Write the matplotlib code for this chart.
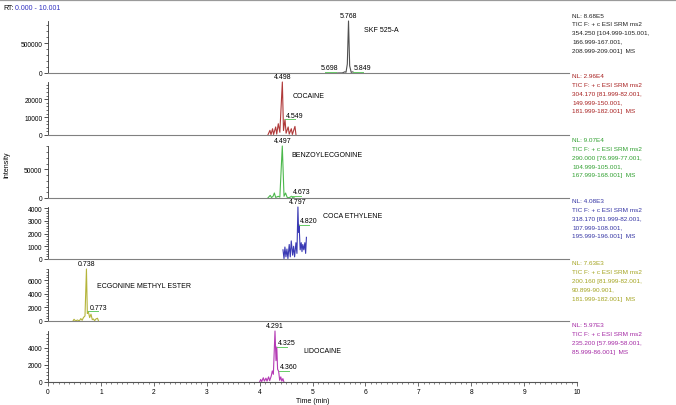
import numpy as np
import matplotlib.pyplot as plt
from matplotlib.ticker import MultipleLocator, AutoMinorLocator, FormatStrFormatter
from matplotlib.lines import Line2D

plt.rcParams['font.family'] = ['Liberation Sans', 'DejaVu Sans']

# ---- data ----
names = ["SKF 525-A", "COCAINE", "BENZOYLECGONINE", "COCA ETHYLENE",
         "ECGONINE METHYL ESTER", "LIDOCAINE"]
nl_labels = ["8.68E5", "2.96E4", "9.07E4", "4.08E3", "7.63E3", "5.97E3"]
nl_values = [8.68e5, 2.96e4, 9.07e4, 4.08e3, 7.63e3, 5.97e3]
scan_info = [
    ["354.250 [104.999-105.001,", "166.999-167.001,", "208.999-209.001]  MS"],
    ["304.170 [81.999-82.001,", "149.999-150.001,", "181.999-182.001]  MS"],
    ["290.000 [76.999-77.001,", "104.999-105.001,", "167.999-168.001]  MS"],
    ["318.170 [81.999-82.001,", "107.999-108.001,", "195.999-196.001]  MS"],
    ["200.160 [81.999-82.001,", "90.899-90.901,", "181.999-182.001]  MS"],
    ["235.200 [57.999-58.001,", "85.999-86.001]  MS"],
]

t_skf = [5.55, 5.65, 5.698, 5.72, 5.745, 5.768, 5.79, 5.82, 5.849, 5.88, 5.95]
i_skf = [0, 1500, 20000, 12000, 150000, 868000, 120000, 10000, 20000, 1500, 0]

t_coc = [4.22, 4.26, 4.28, 4.31, 4.33, 4.37, 4.39, 4.42, 4.45, 4.498, 4.52,
         4.549, 4.57, 4.61, 4.63, 4.67, 4.69, 4.74, 4.76]
i_coc = [0, 2600, 200, 3500, 300, 4500, 500, 6300, 1500, 29600, 2500,
         8700, 1000, 4500, 500, 3500, 300, 4800, 0]

t_bze = [4.22, 4.265, 4.29, 4.32, 4.345, 4.37, 4.42, 4.45, 4.497, 4.53, 4.56,
         4.59, 4.62, 4.65, 4.673, 4.70, 4.73]
i_bze = [0, 4600, 800, 3000, 8700, 1000, 2900, 1500, 90700, 3000, 8700,
         1200, 500, 1500, 3000, 600, 0]

t_cet = [4.51, 4.53, 4.547, 4.567, 4.586, 4.605, 4.63, 4.65, 4.669, 4.695,
         4.714, 4.733, 4.759, 4.778, 4.797, 4.81, 4.820, 4.84, 4.86, 4.875,
         4.89, 4.91, 4.93, 4.945, 4.96]
i_cet = [720, 30, 940, 170, 780, 30, 1140, 170, 1420, 300,
         1000, 170, 1280, 440, 4080, 2100, 2670, 720, 1280, 580,
         1140, 720, 1280, 440, 1700]

t_eme = [0.48, 0.50, 0.53, 0.565, 0.60, 0.63, 0.655, 0.68, 0.71, 0.738,
         0.755, 0.773, 0.80, 0.825, 0.85, 0.87, 0.895, 0.92, 0.95, 0.97]
i_eme = [0, 250, 0, 150, 0, 350, 100, 500, 750, 7630,
         1100, 1400, 500, 1000, 200, 300, 50, 300, 400, 0]

t_lid = [4.00, 4.02, 4.04, 4.07, 4.09, 4.12, 4.14, 4.17, 4.19, 4.22, 4.24,
         4.26, 4.291, 4.31, 4.325, 4.34, 4.360, 4.38, 4.40, 4.42, 4.44, 4.46]
i_lid = [0, 300, 50, 500, 100, 450, 100, 600, 150, 700, 1300,
         900, 5970, 2500, 4100, 1500, 1250, 200, 600, 100, 400, 0]

times = [t_skf, t_coc, t_bze, t_cet, t_eme, t_lid]
ints = [i_skf, i_coc, i_bze, i_cet, i_eme, i_lid]

peak_labels = [
    [("5.768", "top"), ("5.698", "left"), ("5.849", "right")],
    [("4.498", "top"), ("4.549", "right")],
    [("4.497", "top"), ("4.673", "right")],
    [("4.797", "top"), ("4.820", "right")],
    [("0.738", "top"), ("0.773", "right")],
    [("4.291", "top"), ("4.325", "right"), ("4.360", "right")],
]

# ---- styling / layout ----
W, H = 676, 406
trace_colors = ["#505050", "#b03a3a", "#4cb84c", "#3a3ab4", "#b4b43a", "#b43ab4"]
text_colors = ["#202020", "#a82020", "#30a030", "#3434a4", "#a4a420", "#a428a4"]
GREEN = "#66cc66"
y_major = [500000, 10000, 50000, 1000, 2000, 2000]
tops = [22, 83, 147, 208, 270, 332]
bots = [74, 136, 199, 260, 322, 383]
name_pos = [(6.07, 0.83), (4.70, 0.75), (4.68, 0.83), (5.28, 0.83), (0.94, 0.69), (4.82, 0.61)]
FS = 5

fig = plt.figure(figsize=(W / 100, H / 100), dpi=100)

for i in range(6):
    right = 577 if i == 5 else 569
    ax = fig.add_axes([48 / W, 1 - bots[i] / H, (right - 48) / W, (bots[i] - tops[i]) / H])
    ax.plot(times[i], ints[i], color=trace_colors[i], lw=0.8, clip_on=False)
    ax.set_xlim(0, 10)
    ax.set_ylim(0, nl_values[i])
    ax.patch.set_alpha(0)
    for s in ["top", "right"]:
        ax.spines[s].set_visible(False)
    ax.spines["left"].set_color("#333333")
    ax.spines["left"].set_linewidth(0.6)
    ax.spines["bottom"].set_color("#808080" if i < 5 else "#555555")
    ax.spines["bottom"].set_linewidth(0.8)
    ax.yaxis.set_major_locator(MultipleLocator(y_major[i]))
    ax.yaxis.set_minor_locator(AutoMinorLocator(5))
    ax.yaxis.set_major_formatter(FormatStrFormatter("%d"))
    ax.tick_params(axis="y", which="major", length=3, width=0.6, labelsize=4.8, pad=1, color="#333333")
    ax.tick_params(axis="y", which="minor", length=1.8, width=0.5, color="#333333")
    if i < 5:
        ax.tick_params(axis="x", which="both", bottom=False, labelbottom=False)
    else:
        ax.xaxis.set_major_locator(MultipleLocator(1))
        ax.xaxis.set_minor_locator(MultipleLocator(0.1))
        ax.tick_params(axis="x", which="major", length=3, width=0.6, labelsize=4.8, pad=1.5, color="#555555")
        ax.tick_params(axis="x", which="minor", length=1.6, width=0.5, color="#555555")
        ax.set_xlabel("Time (min)", fontsize=FS, labelpad=1)

    # peak retention-time labels
    for lab, side in peak_labels[i]:
        t = float(lab)
        y = np.interp(t, times[i], ints[i])
        if side == "top":
            ax.annotate(lab, (t, y), xytext=(0, 1.2), textcoords="offset points",
                        ha="center", va="bottom", fontsize=FS, annotation_clip=False)
        elif side == "right":
            ax.plot([t, t + 0.19], [y, y], color=GREEN, lw=0.7, clip_on=False)
            ax.annotate(lab, (t, y), xytext=(0.8, 0.6), textcoords="offset points",
                        ha="left", va="bottom", fontsize=FS, annotation_clip=False)
        else:
            ax.plot([t - 0.38, t - 0.17], [y, y], color=GREEN, lw=0.7, clip_on=False)
            ax.annotate(lab, (t - 0.12, y), xytext=(0, 0.6), textcoords="offset points",
                        ha="right", va="bottom", fontsize=FS, annotation_clip=False)

    nx, ny = name_pos[i]
    ax.text(nx, ny, names[i], transform=ax.get_xaxis_transform(), fontsize=FS,
            ha="left", va="center")

    # trace header on the right
    lines = ["NL: " + nl_labels[i], "TIC F: + c ESI SRM ms2"] + scan_info[i]
    y0 = tops[i] - 6
    for k, line in enumerate(lines):
        fig.text(572 / W, 1 - (y0 + k * 8.75) / H, line, fontsize=4.6,
                 color=text_colors[i], ha="left", va="center")

fig.text(7 / W, 1 - 165 / H, "Intensity", rotation=90, fontsize=FS, ha="center", va="center")
fig.text(3 / W, 1 - 8 / H, "RT:", fontsize=FS, ha="left", va="center")
fig.text(15 / W, 1 - 8 / H, "0.000 - 10.001", fontsize=FS, color="#3030c0", ha="left", va="center")
fig.add_artist(Line2D([0, 1], [1 - 1 / H, 1 - 1 / H], transform=fig.transFigure,
                      color="#9a9a9a", lw=1.6))

fig.savefig("out.png", dpi=100)
